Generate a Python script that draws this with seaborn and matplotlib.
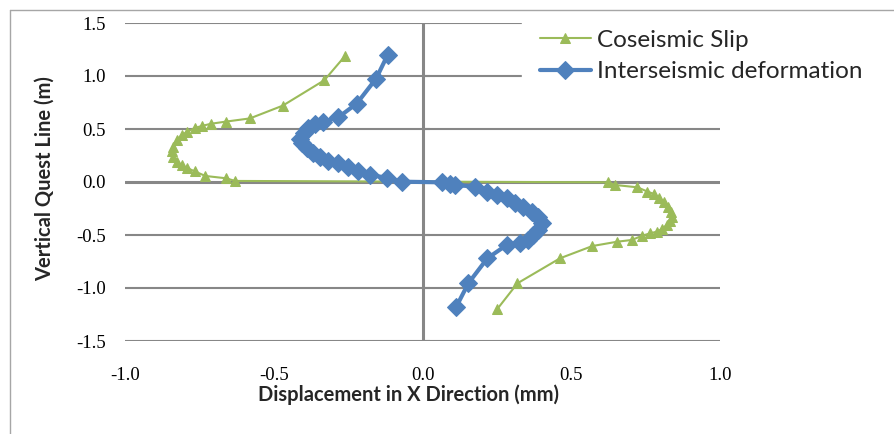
import matplotlib
matplotlib.use("Agg")
import matplotlib.pyplot as plt
from matplotlib.lines import Line2D
import seaborn as sns
import pandas as pd

# ---- data ----
cos_x = [-0.26, -0.33, -0.47, -0.58, -0.66, -0.71, -0.74, -0.765, -0.79, -0.81, -0.826,
         -0.839, -0.843, -0.838, -0.826, -0.81, -0.79, -0.765, -0.73, -0.66, -0.63,
         0.625, 0.647, 0.722, 0.756, 0.778, 0.796, 0.812, 0.826, 0.835, 0.837, 0.832,
         0.821, 0.804, 0.787, 0.765, 0.737, 0.703, 0.655, 0.571, 0.462, 0.319, 0.251]
cos_y = [1.19, 0.96, 0.72, 0.60, 0.57, 0.55, 0.53, 0.51, 0.475, 0.44, 0.40,
         0.33, 0.29, 0.24, 0.19, 0.16, 0.13, 0.10, 0.057, 0.035, 0.01,
         -0.003, -0.028, -0.05, -0.09, -0.113, -0.154, -0.19, -0.233, -0.28, -0.327, -0.365,
         -0.406, -0.446, -0.469, -0.484, -0.509, -0.547, -0.563, -0.604, -0.72, -0.956, -1.20]

int_x = [-0.117, -0.156, -0.221, -0.283, -0.333, -0.361, -0.384, -0.40, -0.412, -0.406,
         -0.389, -0.367, -0.345, -0.317, -0.283, -0.249, -0.216, -0.176, -0.12, -0.07,
         0.064, 0.092, 0.109, 0.176, 0.216, 0.249, 0.283, 0.311, 0.339, 0.367,
         0.389, 0.40, 0.389, 0.372, 0.356, 0.328, 0.283, 0.218, 0.154, 0.113]
int_y = [1.20, 0.975, 0.74, 0.61, 0.57, 0.547, 0.506, 0.46, 0.41, 0.365,
         0.318, 0.271, 0.233, 0.20, 0.176, 0.144, 0.107, 0.066, 0.04, 0.003,
         -0.003, -0.015, -0.028, -0.044, -0.09, -0.123, -0.154, -0.20, -0.239, -0.28,
         -0.327, -0.39, -0.453, -0.50, -0.547, -0.578, -0.594, -0.72, -0.956, -1.18]

series_names = ["Coseismic Slip", "Interseismic deformation"]
x_ticks = [-1.0, -0.5, 0.0, 0.5, 1.0]
y_ticks = [-1.5, -1.0, -0.5, 0.0, 0.5, 1.0, 1.5]
x_label = "Displacement in X Direction (mm)"
y_label = "Vertical Quest Line (m)"

GREEN = "#9BBB59"
BLUE = "#4F81BD"
GRID = "#878787"

sns.set_theme(style="white")
plt.rcParams["font.family"] = ["Liberation Serif", "DejaVu Serif"]

W, H = 894, 434
fig = plt.figure(figsize=(W / 100, H / 100), dpi=100)
ax = fig.add_axes([125 / W, (H - 341) / H, (720 - 125) / W, (341 - 23) / H])

df_c = pd.DataFrame({"x": cos_x, "y": cos_y})
df_i = pd.DataFrame({"x": int_x, "y": int_y})

sns.lineplot(data=df_c, x="x", y="y", sort=False, estimator=None, ax=ax,
             color=GREEN, lw=1.5, marker="^", markersize=7, markeredgecolor=GREEN,
             label=series_names[0], zorder=4)
sns.lineplot(data=df_i, x="x", y="y", sort=False, estimator=None, ax=ax,
             color=BLUE, lw=3.0, marker="D", markersize=9, markeredgecolor=BLUE,
             label=series_names[1], zorder=5)

ax.set_xlim(-1.0, 1.0)
ax.set_ylim(-1.5, 1.5)
for s in ax.spines.values():
    s.set_visible(False)

for yv in y_ticks:
    if yv == 0.0:
        continue
    ax.axhline(yv, color=GRID, lw=1.5, zorder=1)
ax.axhline(0.0, color=GRID, lw=2.2, zorder=2)
ax.axvline(0.0, color=GRID, lw=2.2, zorder=2)
# small tick marks on the vertical axis
for yv in y_ticks:
    ax.plot([0, 0.025], [yv, yv], color=GRID, lw=1.5, zorder=2, solid_capstyle="butt")

ax.set_xticks(x_ticks)
ax.set_yticks(y_ticks)
ax.set_xticklabels([f"{v:.1f}" for v in x_ticks])
ax.set_yticklabels([f"{v:.1f}" for v in y_ticks])
ax.tick_params(axis="x", length=0, pad=19, labelsize=13.5, colors="black")
ax.tick_params(axis="y", length=0, pad=14, labelsize=13.5, colors="black")

ax.set_xlabel(x_label, fontsize=14.5, fontweight="bold", family=["Lato", "DejaVu Sans"],
              va="center", ha="center")
ax.xaxis.set_label_coords((408 - 125) / 595, (341 - 395) / 318)
ax.set_ylabel(y_label, fontsize=14.5, fontweight="bold", family=["Lato", "DejaVu Sans"],
              va="center", ha="center")
ax.yaxis.set_label_coords((45 - 125) / 595, (341 - 179) / 318)

leg = ax.legend(loc="upper left", bbox_to_anchor=(522 / W, 1 - 12 / H),
                bbox_transform=fig.transFigure, frameon=True, fancybox=False,
                facecolor="white", edgecolor="white", framealpha=1,
                prop={"family": ["Lato", "DejaVu Sans"], "size": 17.5},
                handlelength=2.1, handletextpad=0.25, labelspacing=0.45,
                borderpad=0.72, borderaxespad=0, numpoints=1)
leg.set_zorder(6)

# outer chart border (left and top visible)
fig.add_artist(Line2D([10 / W, 10 / W], [0, 1 - 10 / H], transform=fig.transFigure,
                      color="#A6A6A6", lw=1))
fig.add_artist(Line2D([10 / W, 1], [1 - 10 / H, 1 - 10 / H], transform=fig.transFigure,
                      color="#A6A6A6", lw=1))

fig.savefig("out.png", dpi=100)
